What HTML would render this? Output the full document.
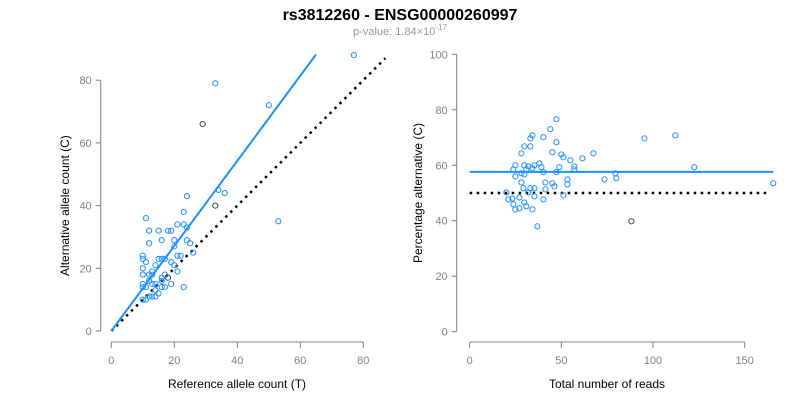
<!DOCTYPE html>
<html><head><meta charset="utf-8"><style>
body{margin:0;background:#fff}
svg{display:block;font-family:"Liberation Sans",Arial,sans-serif}
</style></head><body>
<svg id="c" width="800" height="400">
<text x="400" y="20" text-anchor="middle" font-size="16" font-weight="bold">rs3812260 - ENSG00000260997</text>
<text x="400" y="35" text-anchor="middle" font-size="11" fill="#999">p-value: 1.84×10<tspan dy="-5" font-size="8">-17</tspan></text>
<g id="left"></g>
<g id="right"></g>
</svg>
<script>
const leftRef=[77,33,50,29,53,24,34,36,33,23,11,21,23,24,12,15,18,19,16,20,24,12,25,20,26,10,21,22,10,15,16,17,11,19,20,10,14,21,13,13,10,12,17,16,18,12,16,10,13,14,19,10,11,16,17,23,14,15,12,13,14,10,11];
const leftAlt=[88,79,72,66,35,43,45,44,40,38,36,34,34,33,32,32,32,32,29,29,29,28,28,27,25,24,24,24,23,23,23,23,22,22,21,20,21,19,19,18,18,18,18,17,17,16,16,15,15,15,15,14,14,14,14,14,13,12,11,11,11,10,10];
const leftBlack=[3,8,44];
const fitSlope=1.357, fitMaxX=65, diagMax=87;
const leftXTicks=[0,20,40,60,80], leftYTicks=[0,20,40,60,80];
const rightTotal=[20,21.1,23.3,23.8,24.9,27.1,27.1,29.8,30.9,34.2,36.9,29.3,32,33.1,35.3,35.3,40.2,41.3,41.3,45.1,46.2,51.1,53.3,53.3,28.2,24.9,28.2,29.8,30.9,23.8,24.9,29.8,32,34.2,35.3,38,39.1,40.2,47.3,48.9,57.1,57.1,54.9,51.1,50,61.5,67.5,45.1,47.3,28.2,29.8,33.1,33.1,34.2,40.2,44,47.3,73.5,79.5,80,88.2,95.3,112.2,122.5,165.6];
const rightPct=[50.2,47.7,48,45.9,44.1,44.5,48.4,46.6,45.2,44.1,38,51.7,50.2,51.7,51.7,48.8,47.7,51.3,53.8,53.5,52.4,49.2,54.9,53.1,53.8,56,57.1,56.7,58.5,58.5,60,60,59.6,58.9,60,60.7,59.3,57.5,57.5,59.3,59.6,58.5,61.8,62.9,63.9,62.5,64.3,64.7,68.3,64.3,66.8,66.8,69.7,70.8,70.1,73,76.6,54.9,57.1,55.3,39.8,69.7,70.8,59.3,53.5];
const meanPct=57.6, nullPct=50, rightMaxX=165.6;
const rightXTicks=[0,50,100,150], rightYTicks=[0,20,40,60,80,100];

const NS="http://www.w3.org/2000/svg";
function mk(p,t,a){const e=document.createElementNS(NS,t);for(const k in a)e.setAttribute(k,a[k]);p.appendChild(e);return e;}
function axes(g,sx,sy,xt,yt,xAxisX0,xAxisX1,yAxisY0,yAxisY1,axX,axY,xl,yl,xlX,ylX,pfx){
  const ya=mk(g,'line',{x1:axX,x2:axX,y1:sy(yt[0]),y2:sy(yt[yt.length-1]),stroke:'#808080'});
  
  
  yt.forEach(v=>{mk(g,'line',{x1:axX-5,x2:axX,y1:sy(v),y2:sy(v),stroke:'#808080'});
    const t=mk(g,'text',{x:axX-9,y:sy(v)+4,'text-anchor':'end','font-size':11,fill:'#808080'});t.textContent=v;
    
    });
  const xa=mk(g,'line',{x1:sx(xt[0]),x2:sx(xt[xt.length-1]),y1:axY,y2:axY,stroke:'#808080'});
  
  
  xt.forEach(v=>{mk(g,'line',{x1:sx(v),x2:sx(v),y1:axY,y2:axY+6,stroke:'#808080'});
    const t=mk(g,'text',{x:sx(v),y:axY+22,'text-anchor':'middle','font-size':11,fill:'#808080'});t.textContent=v;
    
    });
  const xtl=mk(g,'text',{x:xlX,y:388,'text-anchor':'middle','font-size':12});xtl.textContent=xl;
  
  
  const ytl=mk(g,'text',{x:0,y:0,'text-anchor':'middle','font-size':12,transform:`translate(${ylX},${(sy(yt[0])+sy(yt[yt.length-1]))/2}) rotate(-90)`});ytl.textContent=yl;
  
  
}
// left
const L=document.getElementById('left');
const lx=v=>111.3+v*3.15, ly=v=>331-v*3.135;
axes(L,lx,ly,leftXTicks,leftYTicks,0,0,0,0,100.7,342,'Reference allele count (T)','Alternative allele count (C)',237,69,'left');
const d1=mk(L,'line',{x1:lx(0),y1:ly(0),x2:lx(diagMax),y2:ly(diagMax),stroke:'#000','stroke-width':2.5,'stroke-dasharray':'2.5 4.5'});


const f1=mk(L,'line',{x1:lx(0),y1:ly(0),x2:lx(fitMaxX),y2:ly(fitMaxX*fitSlope),stroke:'#1e90ff','stroke-width':2});


leftRef.forEach((v,i)=>{const c=mk(L,'circle',{cx:lx(v),cy:ly(leftAlt[i]),r:2.6,fill:'none',stroke:leftBlack.includes(i)?'#444':'#1e90ff','stroke-width':1});
  
  });
// right
const R=document.getElementById('right');
const rx=v=>469.7+v*1.833, ry=v=>331.7-v*2.774;
axes(R,rx,ry,rightXTicks,rightYTicks,0,0,0,0,456.7,342,'Total number of reads','Percentage alternative (C)',607,422,'right');
const d2=mk(R,'line',{x1:rx(0),y1:ry(nullPct),x2:rx(163),y2:ry(nullPct),stroke:'#000','stroke-width':2.5,'stroke-dasharray':'2.5 4.5'});


const f2=mk(R,'line',{x1:rx(0),y1:ry(meanPct),x2:rx(rightMaxX),y2:ry(meanPct),stroke:'#1e90ff','stroke-width':2});


rightTotal.forEach((v,i)=>{const c=mk(R,'circle',{cx:rx(v),cy:ry(rightPct[i]),r:2.6,fill:'none',stroke:i==60?'#444':'#1e90ff','stroke-width':1});
  
  });
</script>
</body></html>
